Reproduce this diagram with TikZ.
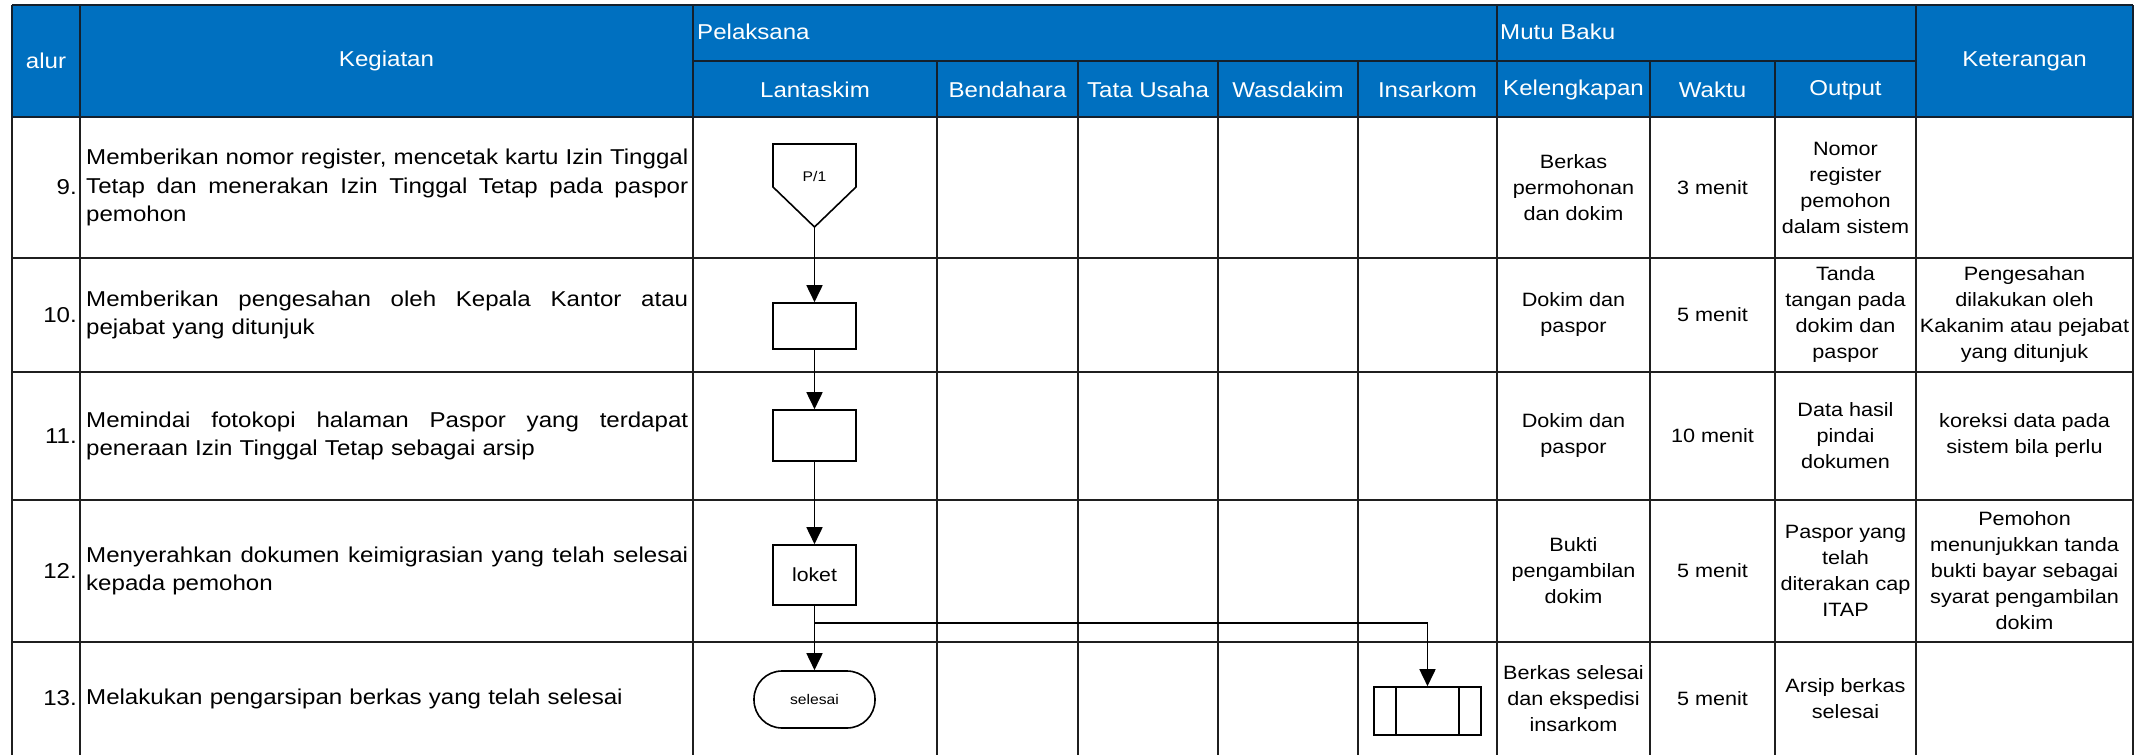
\documentclass[tikz,border=0pt]{standalone}
\usepackage{fontspec}
\setmainfont{Liberation Sans}[FakeStretch=1.12]
\usetikzlibrary{arrows.meta,calc}
\definecolor{hdr}{HTML}{0070C0}
\definecolor{hline}{HTML}{14202C}
\newcommand\jl[1]{\makebox[602pt][s]{\spaceskip=0.278em plus 20em\relax\xspaceskip=0.278em plus 20em\relax #1}}
\begin{document}
\begin{tikzpicture}[x=1pt,y=-1pt,
  grid/.style={line width=1.2pt, draw=black!88},
  hgrid/.style={line width=1.1pt, draw=hline},
  shp/.style={draw=black, line width=1.6pt, fill=white, inner sep=0pt},
  arr/.style={draw=black, line width=1.7pt, -{Triangle[width=16pt,length=17pt]}},
  ht/.style={text=white, font=\fontsize{21.5}{24}\selectfont, inner sep=0pt},
  kg/.style={font=\fontsize{21.5}{28.5}\selectfont, inner sep=0pt, anchor=west, align=left, text width=602pt},
  num/.style={font=\fontsize{21.5}{24.3}\selectfont, inner sep=0pt, anchor=east},
  mt/.style={font=\fontsize{19.3}{26}\selectfont, inner sep=0pt, align=center},
  small/.style={font=\fontsize{14}{16}\selectfont, inner sep=0pt}
]
\useasboundingbox (0,0) rectangle (2147,755);
% header
\fill[hdr] (12,5) rectangle (2133,117);
\draw[hgrid] (12,5) -- (2133,5);
\foreach \x in {12,80,693,1497,1916,2133} \draw[hgrid] (\x,5) -- (\x,117);
\draw[hgrid] (693,61) -- (1916,61);
\foreach \x in {937,1078,1218,1358,1650,1775} \draw[hgrid] (\x,61) -- (\x,117);
% body grid
\foreach \x in {12,80,693,937,1078,1218,1358,1497,1650,1775,1916,2133} \draw[grid] (\x,117) -- (\x,755);
\foreach \y in {258,372,500,642} \draw[grid] (12,\y) -- (2133,\y);
\draw[line width=2pt, draw=hline] (12,117) -- (2133,117);

% header texts
\node[ht] (halur) at (46,61) {alur};
\node[ht] (hkeg) at (386.5,61) {Kegiatan};
\node[ht,anchor=west] (hpel) at (697,32) {Pelaksana};
\node[ht,anchor=west] (hmutu) at (1500,32) {Mutu Baku};
\node[ht] (hket) at (2024.5,61) {Keterangan};
\node[ht] (hlan) at (815,90) {Lantaskim};
\node[ht] (hben) at (1007.5,90) {Bendahara};
\node[ht] (htu) at (1148,90) {Tata Usaha};
\node[ht] (hwas) at (1288,90) {Wasdakim};
\node[ht] (hins) at (1427.5,90) {Insarkom};
\node[ht] (hkel) at (1573.5,90) {Kelengkapan};
\node[ht] (hwak) at (1712.5,90) {Waktu};
\node[ht] (hout) at (1845.5,90) {Output};

% kegiatan column
\node[num] (n9) at (77,187.5) {9.};
\node[kg] (k9) at (86,187.5) {\jl{Memberikan nomor register, mencetak kartu Izin Tinggal}\\\jl{Tetap dan menerakan Izin Tinggal Tetap pada paspor}\\pemohon};
\node[num] (n10) at (77,315) {10.};
\node[kg] (k10) at (86,315) {\jl{Memberikan pengesahan oleh Kepala Kantor atau}\\pejabat yang ditunjuk};
\node[num] (n11) at (77,436) {11.};
\node[kg] (k11) at (86,436) {\jl{Memindai fotokopi halaman Paspor yang terdapat}\\peneraan Izin Tinggal Tetap sebagai arsip};
\node[num] (n12) at (77,571) {12.};
\node[kg] (k12) at (86,571) {\jl{Menyerahkan dokumen keimigrasian yang telah selesai}\\kepada pemohon};
\node[num] (n13) at (77,698.5) {13.};
\node[kg] (k13) at (86,698.5) {Melakukan pengarsipan berkas yang telah selesai};

% mutu baku and keterangan
\node[mt] (kel9) at (1573.5,187.5) {Berkas\\permohonan\\dan dokim};
\node[mt] (wak9) at (1712.5,187.5) {3 menit};
\node[mt] (out9) at (1845.5,187.5) {Nomor\\register\\pemohon\\dalam sistem};
\node[mt] (kel10) at (1573.5,315) {Dokim dan\\paspor};
\node[mt] (wak10) at (1712.5,315) {5 menit};
\node[mt] (out10) at (1845.5,315) {Tanda\\tangan pada\\dokim dan\\paspor};
\node[mt] (ket10) at (2024.5,315) {Pengesahan\\dilakukan oleh\\Kakanim atau pejabat\\yang ditunjuk};
\node[mt] (kel11) at (1573.5,436) {Dokim dan\\paspor};
\node[mt] (wak11) at (1712.5,436) {10 menit};
\node[mt] (out11) at (1845.5,436) {Data hasil\\pindai\\dokumen};
\node[mt] (ket11) at (2024.5,436) {koreksi data pada\\sistem bila perlu};
\node[mt] (kel12) at (1573.5,571) {Bukti\\pengambilan\\dokim};
\node[mt] (wak12) at (1712.5,571) {5 menit};
\node[mt] (out12) at (1845.5,571) {Paspor yang\\telah\\diterakan cap\\ITAP};
\node[mt] (ket12) at (2024.5,571) {Pemohon\\menunjukkan tanda\\bukti bayar sebagai\\syarat pengambilan\\dokim};
\node[mt] (kel13) at (1573.5,698.5) {Berkas selesai\\dan ekspedisi\\insarkom};
\node[mt] (wak13) at (1712.5,698.5) {5 menit};
\node[mt] (out13) at (1845.5,698.5) {Arsip berkas\\selesai};

% flow shapes
\draw[shp] (773,144) -- (856,144) -- (856,187) -- (814.5,227) -- (773,187) -- cycle;
\node[small] (p1) at (814.5,176) {P/1};
\coordinate (p1tip) at (814.5,227);
\node[shp, minimum width=83pt, minimum height=46pt] (b10) at (814.5,326) {};
\node[shp, minimum width=83pt, minimum height=51pt] (b11) at (814.5,435.5) {};
\node[shp, minimum width=83pt, minimum height=60pt, font=\fontsize{19}{22}\selectfont] (loket) at (814.5,575) {loket};
\node[shp, minimum width=121pt, minimum height=57pt, rounded corners=28pt, font=\fontsize{14}{16}\selectfont] (sel) at (814.5,699.5) {selesai};
\node[shp, minimum width=107pt, minimum height=48pt] (ins) at (1427.5,711) {};
\draw[shp] ($(ins.north west)+(23,0)$) -- ($(ins.south west)+(23,0)$);
\draw[shp] ($(ins.north east)+(-23,0)$) -- ($(ins.south east)+(-23,0)$);

% connectors
\draw[arr] (p1tip) -- (b10.north);
\draw[arr] (b10.south) -- (b11.north);
\draw[arr] (b11.south) -- (loket.north);
\draw[arr] (loket.south) -- (sel.north);
\coordinate (br) at (814.5,623);
\draw[arr] (br) -| (ins.north);
\end{tikzpicture}
\end{document}
